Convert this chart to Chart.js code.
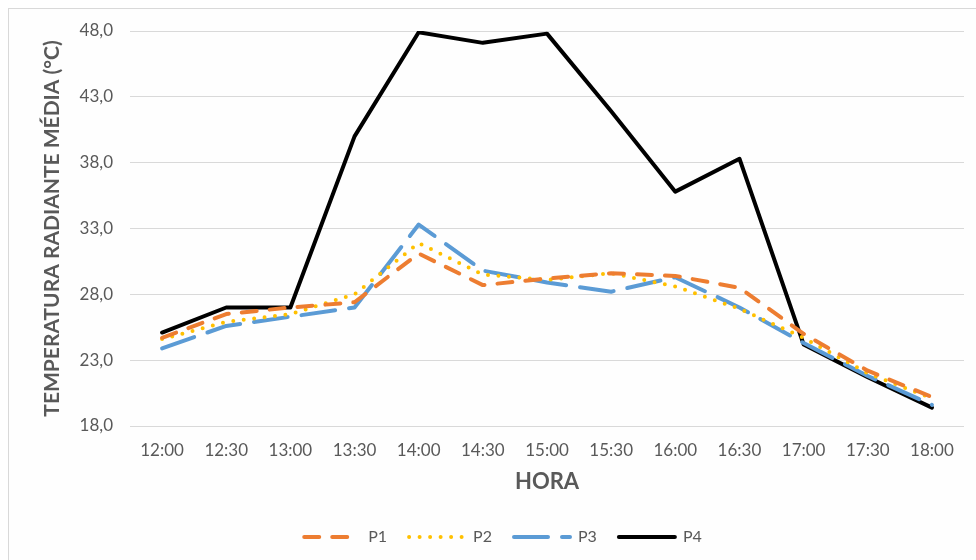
<!DOCTYPE html>
<html>
<head>
<meta charset="utf-8">
<script src="https://cdn.jsdelivr.net/npm/chart.js@4/dist/chart.umd.min.js"></script>
<style>
    html, body { margin: 0; padding: 0; background: #fff; overflow: hidden; }
    #frame { position: absolute; left: 8px; top: 8px; width: 1000px; height: 600px; border: 1px solid #d9d9d9; background: #fefefe; }
    #wrap { position: absolute; left: 0; top: 0; width: 976px; height: 560px; }
</style>
</head>
<body>
<div id="frame"></div>
<div id="wrap"><canvas id="chart" width="976" height="560"></canvas></div>
<script>
// horas da medição
const horas = ['12:00', '12:30', '13:00', '13:30', '14:00', '14:30', '15:00', '15:30', '16:00', '16:30', '17:00', '17:30', '18:00'];

// temperatura radiante média (°C) por ponto
const p1 = [24.7, 26.5, 27.0, 27.4, 31.1, 28.7, 29.2, 29.6, 29.4, 28.5, 25.0, 22.2, 20.2];
const p2 = [24.6, 25.9, 26.5, 28.0, 31.9, 29.5, 29.1, 29.6, 28.6, 26.9, 24.7, 22.0, 20.1];
const p3 = [23.9, 25.6, 26.3, 27.0, 33.3, 29.8, 28.9, 28.2, 29.3, 27.0, 24.3, 21.8, 19.6];
const p4 = [25.1, 27.0, 27.0, 40.0, 47.9, 47.1, 47.8, 41.9, 35.8, 38.3, 24.2, 21.7, 19.4];

const yMin = 18;
const yMax = 48;
const yStep = 5;

const FONT = "Lato, 'Open Sans', sans-serif";
const TXT = '#595959';

// empurra a legenda um pouco para a direita, como no original
const legendShift = {
    id: 'legendShift',
    afterLayout(chart) {
        if (chart.legend) chart.legend.left += 42;
    }
};

new Chart(document.getElementById('chart'), {
    type: 'line',
    data: {
        labels: horas,
        datasets: [
            { label: 'P1', data: p1, borderColor: '#ED7D31', borderWidth: 4, borderDash: [15, 13], borderCapStyle: 'round' },
            { label: 'P2', data: p2, borderColor: '#FFC000', borderWidth: 4, borderDash: [0, 10.5], borderCapStyle: 'round' },
            { label: 'P3', data: p3, borderColor: '#5B9BD5', borderWidth: 4, borderDash: [34, 14], borderCapStyle: 'round' },
            { label: 'P4', data: p4, borderColor: '#000000', borderWidth: 4, borderCapStyle: 'round' }
        ]
    },
    options: {
        responsive: false,
        animation: false,
        elements: {
            point: { radius: 0 },
            line: { tension: 0, borderJoinStyle: 'round', fill: false }
        },
        layout: { padding: { top: 31, right: 12, bottom: 5, left: 0 } },
        plugins: {
            tooltip: { enabled: false },
            legend: {
                position: 'bottom',
                labels: {
                    usePointStyle: true,
                    pointStyle: 'line',
                    pointStyleWidth: 56,
                    padding: 22,
                    color: TXT,
                    font: { family: FONT, size: 16 },
                    generateLabels: chart => {
                        const items = Chart.defaults.plugins.legend.labels.generateLabels(chart);
                        items.forEach(it => {
                            const ds = chart.data.datasets[it.datasetIndex];
                            it.lineDash = ds.borderDash || [];
                            it.lineCap = ds.borderCapStyle || 'butt';
                            it.lineWidth = ds.borderWidth;
                            it.strokeStyle = ds.borderColor;
                        });
                        return items;
                    }
                }
            }
        },
        scales: {
            x: {
                offset: true,
                grid: { display: false },
                border: { display: false },
                ticks: { color: TXT, padding: 6, font: { family: FONT, size: 17 }, maxRotation: 0 },
                title: { display: true, text: 'HORA', color: TXT, padding: { top: 0, bottom: 12 }, font: { family: FONT, size: 22, weight: 'bold' } },
                afterFit: s => { s.height = 81; }
            },
            y: {
                min: yMin,
                max: yMax,
                grid: { color: '#d9d9d9', lineWidth: 1, drawTicks: false },
                border: { display: false },
                ticks: {
                    stepSize: yStep,
                    padding: 17,
                    color: TXT,
                    font: { family: FONT, size: 17 },
                    callback: v => v.toFixed(1).replace('.', ',')
                },
                title: { display: true, text: 'TEMPERATURA RADIANTE MÉDIA (°C)', color: TXT, padding: { top: 40, bottom: 0 }, font: { family: FONT, size: 21, weight: 'bold' } },
                afterFit: s => { s.width = 130; }
            }
        }
    },
    plugins: [legendShift]
});
</script>
</body>
</html>
